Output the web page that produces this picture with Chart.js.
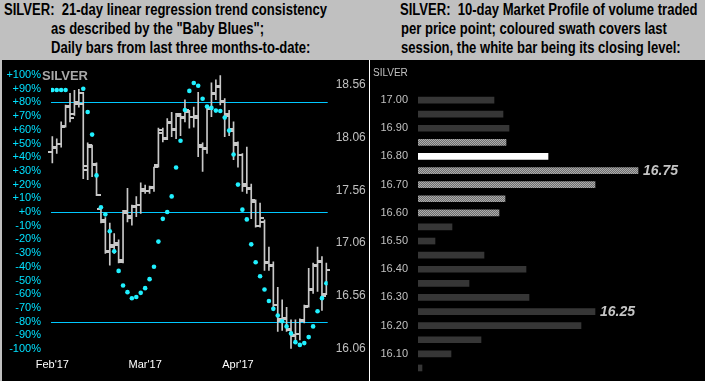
<!DOCTYPE html>
<html><head><meta charset="utf-8">
<script src="https://cdn.jsdelivr.net/npm/chart.js@4.4.1/dist/chart.umd.min.js"></script>
<style>
html,body{margin:0;padding:0;}
body{width:705px;height:381px;background:#c0c0c0;position:relative;overflow:hidden;font-family:"Liberation Sans",Arial,sans-serif;}
.ttl{position:absolute;top:0px;font-family:"Liberation Sans",Arial,sans-serif;font-weight:bold;font-size:16px;line-height:19px;color:#000;white-space:pre;transform:scaleX(0.815);transform-origin:0 0;}
#panel{position:absolute;left:2px;top:60px;width:703px;height:321px;background:#000;}
#sep{position:absolute;left:369px;top:60px;width:1px;height:321px;background:#fff;}
#c1{position:absolute;left:2px;top:60px;}
#c2{position:absolute;left:370px;top:60px;}
#lblL{position:absolute;left:42px;top:68.5px;font-weight:bold;font-size:13px;line-height:13px;color:#a8a8a8;}
#lblR{position:absolute;left:373px;top:67.6px;font-size:10px;line-height:10px;color:#c0c0c0;}
</style></head><body>
<div class="ttl" style="left:4px">SILVER:  21-day linear regression trend consistency</div>
<div class="ttl" style="left:51px;top:19px">as described by the "Baby Blues";
Daily bars from last three months-to-date:</div>
<div class="ttl" style="left:400px">SILVER:  10-day Market Profile of volume traded</div>
<div class="ttl" style="left:401px;top:19px">per price point; coloured swath covers last
session, the white bar being its closing level:</div>
<div id="panel"></div>
<canvas id="c1" width="367" height="321"></canvas>
<canvas id="c2" width="335" height="321"></canvas>
<div id="sep"></div>
<div id="lblL">SILVER</div>
<div id="lblR">SILVER</div>
<script>
// ---------- Left panel data ----------
const pctTicks = [100,90,80,70,60,50,40,30,20,10,0,-10,-20,-30,-40,-50,-60,-70,-80,-90,-100];
const priceTicks = [16.06,16.56,17.06,17.56,18.06,18.56];
const monthLabels = ["Feb'17","Mar'17","Apr'17"];
const monthStartIdx = [0,21,42];
const bandLevels = [80,0,-80];

const opens  = [17.92,17.97,18.00,18.17,18.36,18.28,18.40,18.48,17.75,17.97,17.80,17.38,17.28,16.97,17.02,17.04,16.90,17.34,17.30,17.40,17.42,17.57,17.55,17.58,17.80,18.10,18.06,18.20,18.14,18.27,18.25,18.30,18.26,18.25,17.97,17.96,18.33,18.47,18.55,18.40,18.27,18.12,17.99,17.90,17.62,17.58,17.45,17.22,17.26,16.88,16.84,16.47,16.32,16.35,16.24,16.18,16.20,16.32,16.46,16.62,16.84,16.88,16.58];
const highs  = [18.07,18.05,18.21,18.37,18.48,18.51,18.52,18.49,18.01,17.99,17.82,17.40,17.30,17.25,17.15,17.09,17.37,17.58,17.42,17.50,17.63,17.61,17.60,17.78,18.15,18.15,18.24,18.30,18.29,18.29,18.42,18.32,18.35,18.49,18.01,18.35,18.58,18.61,18.65,18.43,18.32,18.21,18.02,17.91,17.97,17.62,17.47,17.44,17.28,17.02,16.88,16.64,16.52,16.45,16.33,16.33,16.34,16.47,16.82,16.87,17.02,16.93,16.87];
const lows   = [17.82,17.91,17.97,18.16,18.21,18.27,18.35,17.67,17.66,17.69,17.51,17.25,16.96,16.85,16.96,16.87,16.87,17.26,17.23,17.31,17.34,17.53,17.53,17.55,17.78,18.02,18.04,18.07,18.05,18.08,18.21,18.15,18.16,17.88,17.74,17.91,18.26,18.42,18.37,18.07,18.08,17.85,17.78,17.55,17.53,17.29,17.21,17.21,16.80,16.80,16.44,16.22,16.23,16.22,16.06,16.14,16.14,16.30,16.45,16.58,16.60,16.42,16.57];
const closes = [17.96,18.00,18.16,18.35,18.25,18.38,18.38,17.79,17.99,17.81,17.52,17.26,16.98,17.04,17.06,16.88,17.36,17.32,17.41,17.42,17.55,17.55,17.59,17.78,18.13,18.05,18.21,18.13,18.28,18.26,18.32,18.26,18.27,17.99,17.95,18.34,18.48,18.54,18.41,18.28,18.14,18.01,17.90,17.60,17.57,17.47,17.22,17.30,16.87,16.85,16.47,16.34,16.34,16.23,16.19,16.20,16.33,16.45,16.61,16.85,16.89,16.56,16.80];
const babyBlues = [89,89,89,89,null,null,null,90,73,56.5,26.7,3.4,-1.7,-14,-28.7,-43,-53.7,-58.5,-63,-62,-59,-55.6,-49,-40,-21.6,-5,0,11.4,32.5,52,74.5,88.4,94.2,92.2,82.7,77,76,74,73.7,68.9,59.4,42,20,1.7,-5.4,-23.6,-36.7,-46.9,-56.6,-65,-70.7,-75.5,-79.7,-83.5,-88.6,-95,-97,-95.7,-91.3,-83.5,-72.4,-62.9,-52];

// ---------- Right panel data ----------
const levels  = [17.00,16.95,16.90,16.85,16.80,16.75,16.70,16.65,16.60,16.55,16.50,16.45,16.40,16.35,16.30,16.25,16.20,16.15,16.10,16.05];
const volumes = [76,85,91,88,130,220,177,87,81,34,17,66,108,51,111,177,163,63,33,4];
const swathLevels = [16.85,16.80,16.75,16.70,16.65,16.60];
const closeLevel = 16.80;
const peakLabels = [16.75,16.25];

Chart.defaults.font.family = "'Liberation Sans', Arial, sans-serif";
Chart.defaults.animation = false;

const fixAxis = (w, h) => s => {
  if (w !== null) s.width = w;
  if (h !== null) s.height = h;
  s.paddingTop = 0; s.paddingBottom = 0; s.paddingLeft = 0; s.paddingRight = 0;
};

const refLines = {
  id: 'refLines',
  beforeDatasetsDraw(chart) {
    const {ctx, chartArea, scales} = chart;
    ctx.save();
    ctx.strokeStyle = '#00c8ff';
    ctx.lineWidth = 1;
    bandLevels.forEach(v => {
      const y = Math.round(scales.yPct.getPixelForValue(v)) + 0.5;
      ctx.beginPath(); ctx.moveTo(chartArea.left, y); ctx.lineTo(chartArea.right, y); ctx.stroke();
    });
    ctx.restore();
  }
};

const ohlcTicks = {
  id: 'ohlcTicks',
  afterDatasetDraw(chart, args) {
    if (args.index !== 1) return;
    const {ctx, scales} = chart;
    ctx.save();
    ctx.fillStyle = '#c8c8c8';
    for (let i = 0; i < closes.length; i++) {
      const px = Math.round(scales.x.getPixelForValue(i));
      const po = Math.round(scales.yP.getPixelForValue(opens[i]));
      const pc = Math.round(scales.yP.getPixelForValue(closes[i]));
      ctx.fillRect(px - 4, po - 1, 4, 2);
      ctx.fillRect(px, pc - 1, 4, 2);
    }
    ctx.restore();
  }
};

new Chart(document.getElementById('c1'), {
  type: 'bar',
  data: {
    datasets: [
      {
        type: 'scatter',
        data: babyBlues.map((v, i) => ({x: i, y: v})),
        xAxisID: 'x', yAxisID: 'yPct',
        pointRadius: 2.3, pointBackgroundColor: '#20f0ff', pointBorderWidth: 0,
        showLine: false, order: 0
      },
      {
        type: 'bar',
        data: highs.map((h, i) => ({x: i, y: [lows[i], h]})),
        xAxisID: 'x', yAxisID: 'yP',
        backgroundColor: '#c8c8c8', borderWidth: 0, barThickness: 1,
        grouped: false, order: 1
      }
    ]
  },
  options: {
    responsive: false, devicePixelRatio: 1,
    layout: {padding: {top: 10, left: 0, right: 0, bottom: 0}},
    plugins: {legend: {display: false}, tooltip: {enabled: false}},
    scales: {
      x: {
        type: 'linear', position: 'bottom', min: -0.3, max: 62.3, offset: false,
        grid: {display: false, drawTicks: false}, border: {display: false},
        afterBuildTicks: s => { s.ticks = monthStartIdx.map(v => ({value: v})); },
        ticks: {color: '#ffffff', font: {size: 11}, padding: 4.4, maxRotation: 0, autoSkip: false,
          callback: v => monthLabels[monthStartIdx.indexOf(v)]},
        afterFit: fixAxis(null, 27)
      },
      yPct: {
        type: 'linear', position: 'left', min: -103.65, max: 103.65,
        grid: {display: false, drawTicks: false}, border: {display: false},
        afterBuildTicks: s => { s.ticks = pctTicks.map(v => ({value: v})); },
        ticks: {color: '#00e0ff', font: {size: 11}, padding: 10, autoSkip: false,
          callback: v => (v >= 0 ? '+' : '') + v + '%'},
        afterFit: fixAxis(49, null)
      },
      yP: {
        type: 'linear', position: 'right', min: 16.0059, max: 18.7024,
        grid: {display: false, drawTicks: false}, border: {display: false},
        afterBuildTicks: s => { s.ticks = priceTicks.map(v => ({value: v})); },
        ticks: {color: '#c0c0c0', font: {size: 12}, padding: 8, autoSkip: false,
          callback: v => v.toFixed(2)},
        afterFit: fixAxis(41.3, null)
      }
    }
  },
  plugins: [refLines, ohlcTicks]
});

// ---------- Right chart ----------
const pc = document.createElement('canvas');
pc.width = 2; pc.height = 2;
const pctx = pc.getContext('2d');
pctx.fillStyle = '#6e6e6e'; pctx.fillRect(0, 0, 2, 2);
pctx.fillStyle = '#acacac'; pctx.fillRect(0, 0, 1, 1); pctx.fillRect(1, 1, 1, 1);
const swathPattern = document.getElementById('c2').getContext('2d').createPattern(pc, 'repeat');

const barColors = levels.map(l => {
  if (Math.abs(l - closeLevel) < 1e-6) return '#ffffff';
  if (swathLevels.some(s => Math.abs(s - l) < 1e-6)) return swathPattern;
  return '#363636';
});

const peakText = {
  id: 'peakText',
  afterDatasetsDraw(chart) {
    const {ctx} = chart;
    const meta = chart.getDatasetMeta(0);
    ctx.save();
    ctx.font = "italic bold 14px 'Liberation Sans', Arial, sans-serif";
    ctx.fillStyle = '#c4c4c4';
    ctx.textBaseline = 'middle';
    ctx.textAlign = 'left';
    peakLabels.forEach(p => {
      const i = levels.findIndex(l => Math.abs(l - p) < 1e-6);
      const el = meta.data[i];
      ctx.fillText(p.toFixed(2), el.x + 5, el.y + 1);
    });
    ctx.restore();
  }
};

new Chart(document.getElementById('c2'), {
  type: 'bar',
  data: {
    labels: levels.map(v => v.toFixed(2)),
    datasets: [{
      data: volumes,
      backgroundColor: barColors,
      borderWidth: 0,
      barThickness: 6
    }]
  },
  options: {
    indexAxis: 'y',
    responsive: false, devicePixelRatio: 1,
    layout: {padding: {top: 33, bottom: 6, left: 0, right: 0}},
    plugins: {legend: {display: false}, tooltip: {enabled: false}},
    scales: {
      x: {type: 'linear', min: 0, max: 287, display: false},
      y: {
        type: 'category', position: 'left', offset: true,
        grid: {display: false, drawTicks: false}, border: {display: false},
        ticks: {color: '#c0c0c0', font: {size: 11}, padding: 10, autoSkip: false,
          callback: (v, i) => (i % 2 === 0 ? levels[i].toFixed(2) : '')},
        afterFit: fixAxis(48, null)
      }
    }
  },
  plugins: [peakText]
});
</script>
</body></html>
